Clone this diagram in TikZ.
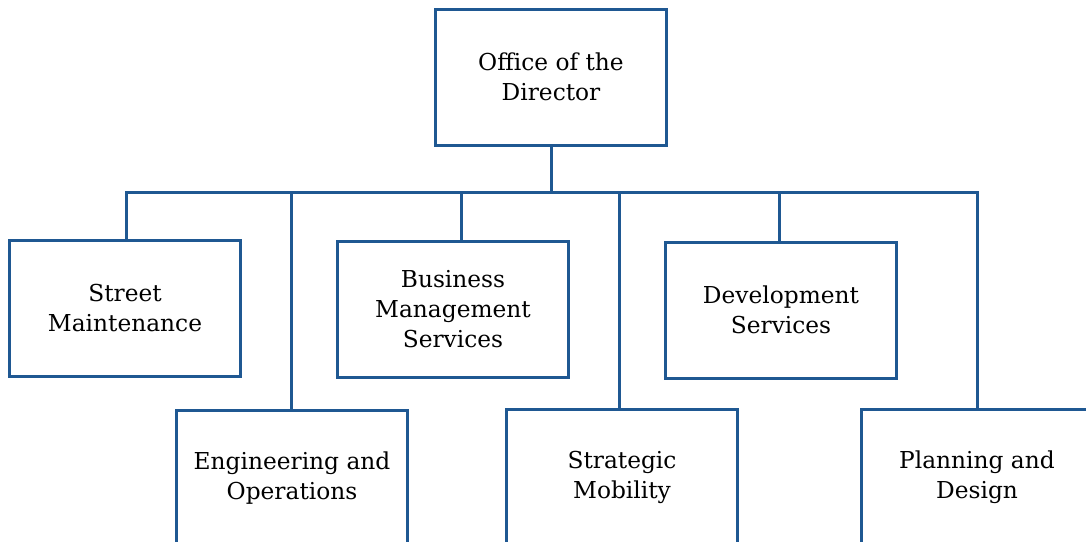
\documentclass[tikz,border=0pt]{standalone}
\usepackage{fontspec}
\setmainfont{DejaVu Serif}
\definecolor{orgblue}{RGB}{31,88,146}
\begin{document}
\begin{tikzpicture}[
  x=1pt, y=-1pt,
  unit/.style={draw=orgblue, line width=3pt, align=center, minimum width=231pt, minimum height=136pt,
    inner sep=0pt, font=\fontsize{23.3}{30}\selectfont},
  link/.style={draw=orgblue, line width=3pt, line cap=rect}
]
\clip (0,0) rectangle (1086,541);
\node[unit] (dir) at (551,77) {Office of the\\Director};
% first row
\node[unit] (sm) at (125,308) {Street\\Maintenance};
\node[unit] (bms) at (453,309) {Business\\Management\\Services};
\node[unit] (ds) at (781,310) {Development\\Services};
% second row
\node[unit] (eo) at (292,478) {Engineering and\\Operations};
\node[unit] (mob) at (622,477) {Strategic\\Mobility};
\node[unit] (pd) at (977,477) {Planning and\\Design};

\coordinate (jsm) at (126,192);
\coordinate (jeo) at (291,192);
\coordinate (jbm) at (461,192);
\coordinate (jmob) at (619,192);
\coordinate (jds) at (779,192);
\coordinate (jpd) at (977,192);

\draw[link] (dir.south) -- (dir.south |- jsm);
\draw[link] (jsm) -- (jpd);
\draw[link] (jsm) -- (jsm |- sm.north);
\draw[link] (jeo) -- (jeo |- eo.north);
\draw[link] (jbm) -- (jbm |- bms.north);
\draw[link] (jmob) -- (jmob |- mob.north);
\draw[link] (jds) -- (jds |- ds.north);
\draw[link] (jpd) -- (pd.north);
\end{tikzpicture}
\end{document}
